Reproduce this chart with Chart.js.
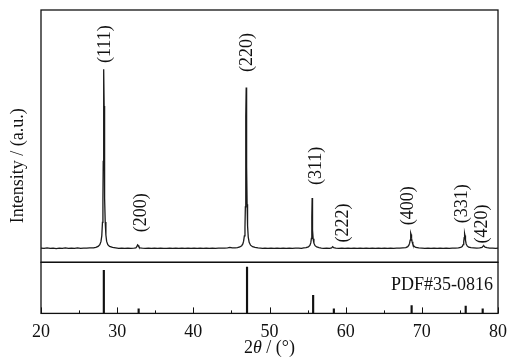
<!DOCTYPE html>
<html lang="en">
<head>
<meta charset="UTF-8">
<title>XRD pattern</title>
<style>
  * { margin: 0; padding: 0; box-sizing: border-box; }
  body { background: #fff; }
  #wrap { width: 509px; height: 363px; }
</style>
</head>
<body>
<div id="wrap"><canvas id="xrd" width="509" height="363"></canvas></div>
<script src="https://cdn.jsdelivr.net/npm/chart.js@4.4.0/dist/chart.umd.min.js"></script>
<script>
// measured pattern: [2theta, intensity]
const pattern = [
  [20.0,5.6],[20.4,5.5],[20.8,5.7],[21.2,5.5],[21.6,5.6],[22.0,5.4],[22.4,5.6],[22.8,5.5],
  [23.2,5.7],[23.6,5.5],[24.0,5.6],[24.4,5.5],[24.8,5.7],[25.2,5.5],[25.6,5.6],[26.0,5.6],
  [26.4,5.7],[26.9,5.7],[27.2,5.9],[27.5,6.3],[27.72,7.0],[27.87,8.2],[27.98,10.5],[28.07,15.8],
  [28.13,25],[28.17,40],[28.21,62],[28.25,76.5],[28.29,62],[28.33,40],[28.37,25.5],[28.43,16],
  [28.52,10.8],[28.62,8.3],[28.77,7.0],[29.0,6.3],[29.4,5.9],[29.8,5.7],
  [30.2,5.5],[30.6,5.6],[31.0,5.5],[31.4,5.6],[31.8,5.5],[32.2,5.6],[32.45,5.7],[32.58,6.2],
  [32.68,6.9],[32.76,6.7],[32.86,6.1],[33.0,5.7],[33.3,5.6],[33.7,5.5],[34.1,5.6],[34.5,5.5],
  [34.9,5.6],[35.3,5.5],[35.7,5.6],[36.1,5.5],[36.5,5.5],[36.9,5.6],[37.3,5.5],[37.7,5.6],
  [38.1,5.5],[38.5,5.6],[38.9,5.5],[39.3,5.6],[39.7,5.5],[40.1,5.6],[40.5,5.5],[40.9,5.6],
  [41.3,5.5],[41.7,5.6],[42.1,5.5],[42.5,5.6],[42.9,5.5],[43.3,5.6],[43.7,5.6],[44.1,5.6],
  [44.5,5.7],[44.8,5.9],[45.1,5.7],[45.5,5.7],[45.8,5.8],[46.1,6.1],[46.35,6.6],[46.5,7.3],
  [46.6,8.4],[46.7,10.5],[46.78,14],[46.83,22],[46.87,38],[46.9,58],[46.94,69.3],[46.98,58],
  [47.01,38],[47.06,23],[47.12,14.5],[47.21,10],[47.33,7.9],[47.51,6.8],[47.78,6.2],[48.1,5.9],
  [48.5,5.7],[48.8,5.6],[49.1,5.5],[49.4,5.6],[49.8,5.5],[50.2,5.6],[50.6,5.5],[51.0,5.6],
  [51.4,5.5],[51.8,5.6],[52.2,5.5],[52.6,5.6],[53.0,5.5],[53.4,5.6],[53.8,5.6],[54.2,5.5],
  [54.5,5.7],[54.8,5.8],[55.1,6.1],[55.3,6.7],[55.42,7.7],[55.5,9.5],[55.54,12.5],[55.57,18],
  [55.6,25.5],[55.63,18],[55.67,12.8],[55.73,9.3],[55.83,7.6],[55.98,6.6],[56.2,6.1],[56.5,5.8],
  [56.8,5.6],[57.1,5.5],[57.5,5.6],[57.9,5.5],[58.15,5.7],[58.3,6.2],[58.42,5.8],[58.7,5.6],
  [59.1,5.5],[59.5,5.6],[59.9,5.5],[60.3,5.6],[60.7,5.5],[61.1,5.6],[61.5,5.5],[61.9,5.6],
  [62.3,5.5],[62.7,5.6],[63.1,5.5],[63.5,5.6],[63.9,5.5],[64.3,5.6],[64.7,5.5],[65.1,5.6],
  [65.5,5.5],[65.9,5.6],[66.3,5.5],[66.7,5.6],[67.1,5.6],[67.5,5.7],[67.9,5.8],[68.15,6.2],
  [68.3,6.8],[68.4,7.6],[68.47,8.8],[68.52,10.3],[68.56,11.6],[68.6,11.0],[68.65,9.6],[68.72,8.2],
  [68.82,7.1],[68.97,6.4],[69.2,5.9],[69.6,5.7],[70.0,5.6],[70.4,5.5],[70.8,5.6],[71.2,5.5],
  [71.6,5.6],[72.0,5.5],[72.4,5.6],[72.8,5.5],[73.2,5.6],[73.6,5.5],[74.0,5.6],[74.4,5.6],
  [74.8,5.7],[75.1,5.9],[75.3,6.3],[75.42,7.0],[75.5,8.1],[75.56,9.8],[75.6,11.1],[75.63,11.4],
  [75.67,10.6],[75.73,8.8],[75.82,7.3],[75.95,6.5],[76.15,6.0],[76.45,5.8],[76.8,5.7],[77.2,5.6],
  [77.6,5.7],[77.9,5.9],[78.05,6.4],[78.15,6.5],[78.3,6.0],[78.55,5.8],[78.9,5.6],[79.3,5.6],
  [79.7,5.5],[80.0,5.6]
];

// standard card lines
const refPos = [28.25, 32.82, 47.05, 55.73, 58.45, 68.66, 75.76, 77.99];
const refInt = [93, 10, 100, 39, 10, 17, 16, 10];
const refCard = 'PDF#35-0816';

// peak indexing
const hkl = ['(111)', '(200)', '(220)', '(311)', '(222)', '(400)', '(331)', '(420)'];
const hklAt = [28.4, 33.2, 47.14, 56.08, 59.63, 68.2, 75.27, 77.92];
const hklBottom = [79, 11.9, 75.4, 30.6, 7.9, 14.7, 15.5, 7.5];

const xTicks = [20, 30, 40, 50, 60, 70, 80];

const serif = '"Liberation Serif", "Times New Roman", serif';
const ink = '#111';

const framePlugin = {
  id: 'framePlugin',
  afterDraw(chart) {
    const { ctx, chartArea: a, scales } = chart;
    const x = scales.x, top = scales.yTop, bot = scales.yBot;
    ctx.save();
    ctx.strokeStyle = ink;
    ctx.lineWidth = 1.3;
    ctx.strokeRect(a.left, top.top, a.right - a.left, top.bottom - top.top);
    ctx.strokeRect(a.left, bot.top, a.right - a.left, bot.bottom - bot.top);

    // inward ticks on the bottom axis
    ctx.lineWidth = 1;
    for (let v = 20; v <= 80; v += 5) {
      const px = Math.round(x.getPixelForValue(v)) + 0.5;
      const len = v % 10 === 0 ? 6 : 3;
      ctx.beginPath();
      ctx.moveTo(px, bot.bottom);
      ctx.lineTo(px, bot.bottom - len);
      ctx.stroke();
    }

    ctx.fillStyle = ink;
    ctx.font = '18px ' + serif;

    // hkl labels, reading upward
    hkl.forEach((t, i) => {
      ctx.save();
      ctx.translate(x.getPixelForValue(hklAt[i]), top.getPixelForValue(hklBottom[i]));
      ctx.rotate(-Math.PI / 2);
      ctx.textAlign = 'left';
      ctx.textBaseline = 'middle';
      ctx.fillText(t, 0, 0);
      ctx.restore();
    });

    // card number
    ctx.textAlign = 'right';
    ctx.textBaseline = 'alphabetic';
    ctx.fillText(refCard, a.right - 5, bot.top + 28);

    // y title
    ctx.save();
    ctx.translate(18, (a.top + a.bottom) / 2 + 4);
    ctx.rotate(-Math.PI / 2);
    ctx.textAlign = 'center';
    ctx.textBaseline = 'middle';
    ctx.fillText('Intensity / (a.u.)', 0, 0);
    ctx.restore();

    // x title with italic theta
    const parts = [['2', '18px ' + serif], ['\u03b8', 'italic 18px ' + serif], [' / (\u00b0)', '18px ' + serif]];
    let w = 0;
    parts.forEach(p => { ctx.font = p[1]; w += ctx.measureText(p[0]).width; });
    let cx = (a.left + a.right) / 2 - w / 2;
    ctx.textAlign = 'left';
    parts.forEach(p => {
      ctx.font = p[1];
      ctx.fillText(p[0], cx, 353);
      cx += ctx.measureText(p[0]).width;
    });
    ctx.restore();
  }
};

const hiddenY = (weight, max) => ({
  type: 'linear',
  position: 'left',
  stack: 'xrd',
  stackWeight: weight,
  min: 0,
  max: max,
  ticks: { display: false },
  grid: { display: false, drawTicks: false },
  border: { display: false }
});

new Chart(document.getElementById('xrd'), {
  type: 'line',
  data: {
    datasets: [
      {
        type: 'line',
        data: pattern.map(p => ({ x: p[0], y: p[1] })),
        yAxisID: 'yTop',
        borderColor: '#1a1a1a',
        borderWidth: 1.3,
        pointRadius: 0,
        tension: 0,
        fill: false
      },
      {
        type: 'bar',
        data: refPos.map((v, i) => ({ x: v, y: refInt[i] })),
        yAxisID: 'yBot',
        backgroundColor: ink,
        borderWidth: 0,
        barThickness: 1.5
      }
    ]
  },
  options: {
    responsive: false,
    animation: false,
    devicePixelRatio: 1,
    layout: { padding: { top: 10, left: 41, right: 11, bottom: 12 } },
    plugins: { legend: { display: false }, tooltip: { enabled: false } },
    scales: {
      x: {
        type: 'linear',
        min: 20,
        max: 80,
        offset: false,
        afterBuildTicks: s => { s.ticks = xTicks.map(v => ({ value: v })); },
        // end labels may hang into the outer margin
        afterFit: s => { s.paddingLeft = 0; s.paddingRight = 0; },
        grid: { display: false, drawTicks: false },
        border: { display: false },
        ticks: { color: ink, font: { family: serif, size: 18 }, padding: 8, maxRotation: 0, autoSkip: false }
      },
      yBot: hiddenY(51, 110),
      yTop: hiddenY(252, 100)
    }
  },
  plugins: [framePlugin]
});
</script>
</body>
</html>
